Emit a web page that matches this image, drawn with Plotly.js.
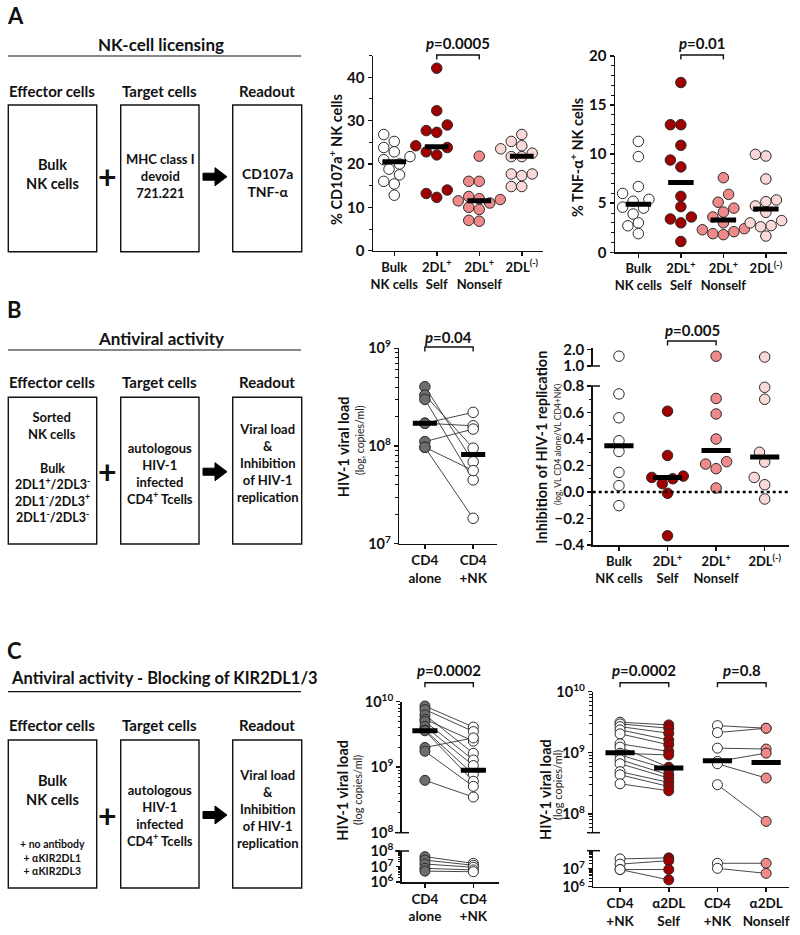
<!DOCTYPE html>
<html>
<head>
<meta charset="utf-8">
<script src="https://cdn.plot.ly/plotly-3.0.1.min.js"></script>
<style>
  body { margin: 0; background: #fff; }
  #fig { width: 800px; height: 935px; }
</style>
</head>
<body>
<div id="fig"></div>
<script>
// ---------- values ----------
// A: NK-cell licensing
var catA = ['Bulk<br>NK cells', '2DL<sup>+</sup><br>Self', '2DL<sup>+</sup><br>Nonself', '2DL<sup>(-)</sup>'];
var cd107Bulk = [25.2, 26.8, 22.8, 23.8, 21.7, 21.0, 20.0, 18.8, 17.5, 16.0, 15.4, 12.8];
var cd107Self = [42.1, 32.3, 29.0, 27.3, 27.7, 24.2, 23.8, 22.8, 22.1, 14.0, 12.3, 13.2];
var cd107Nonself = [21.8, 16.0, 16.0, 12.5, 12.0, 11.8, 11.5, 11.0, 10.0, 9.5, 7.0, 6.8];
var cd107Neg = [26.8, 25.2, 24.2, 23.5, 22.5, 21.7, 21.7, 17.7, 17.3, 17.7, 14.8, 14.8];
var cd107Med = [20.5, 24.0, 11.5, 21.8];

var tnfBulk = [11.3, 9.75, 6.7, 6.0, 5.4, 5.2, 4.6, 4.5, 3.9, 3.0, 2.7, 1.9];
var tnfSelf = [17.3, 13.0, 13.0, 10.9, 9.4, 8.7, 5.7, 4.65, 3.6, 3.4, 3.0, 1.1];
var tnfNonself = [7.6, 5.9, 5.1, 4.5, 4.1, 3.6, 3.0, 2.4, 2.3, 2.1, 1.9, 1.8];
var tnfNeg = [9.98, 9.81, 7.47, 5.33, 5.16, 4.72, 4.07, 3.23, 3.0, 2.72, 2.6, 1.66];
var tnfMed = [4.9, 7.1, 3.3, 4.4];

// B: antiviral activity
var catB1 = ['CD4<br>alone', 'CD4<br>+NK'];
var vlAlone = [4.05e8, 3.32e8, 3.0e8, 1.71e8, 1.71e8, 1.11e8, 0.97e8, 0.97e8];
var vlNK = [0.69e8, 0.95e8, 0.45e8, 2.21e8, 1.61e8, 1.49e8, 0.56e8, 1.82e7];
var vlMed = [1.71e8, 0.82e8];

var inhBulk = [1.6, 0.74, 0.56, 0.387, 0.306, 0.148, 0.048, -0.103];
var inhSelf = [0.61, 0.276, 0.12, 0.11, 0.10, 0.063, -0.01, -0.33];
var inhNonself = [1.6, 0.706, 0.589, 0.40, 0.229, 0.211, 0.176, 0.03];
var inhNeg = [1.55, 0.79, 0.70, 0.30, 0.226, 0.11, 0.055, -0.053];
var inhMed = [0.35, 0.11, 0.314, 0.264];

// C: blocking of KIR2DL1/3
var catC1 = ['CD4<br>alone', 'CD4<br>+NK'];
var c1AloneHi = [8.6e9, 7.6e9, 6.3e9, 5.4e9, 5.0e9, 4.2e9, 3.7e9, 3.6e9, 2.0e9, 1.75e9, 6.3e8];
var c1NKHi = [4.1e9, 3.5e9, 1.63e9, 2.5e9, 1.29e9, 1.06e9, 7.8e8, 6.1e8, 2.8e9, 5.1e8, 3.5e8];
var c1AloneLo = [4.3e7, 2.6e7, 1.45e7, 7.6e6, 5.0e6];
var c1NKLo = [1.6e7, 1.2e7, 8.9e6, 6.0e6, 4.6e6];
var c1Med = [3.6e9, 9.0e8];

var catC2 = ['CD4<br>+NK', '\u03b12DL<br>Self', 'CD4<br>+NK', '\u03b12DL<br>Nonself'];
var c2NkSelfHi = [3.16e9, 2.97e9, 2.68e9, 2.37e9, 2.04e9, 1.40e9, 1.24e9, 9.8e8, 9.2e8, 7.7e8, 6.6e8, 4.9e8, 4.35e8, 3.1e8];
var c2SelfHi = [2.86e9, 2.52e9, 2.09e9, 1.62e9, 1.35e9, 1.05e9, 5.8e8, 9.2e8, 5.3e8, 4.35e8, 3.85e8, 3.26e8, 2.8e8, 2.38e8];
var c2NkSelfLo = [3.5e7, 1.8e7, 9.0e6, 9.0e6];
var c2SelfLo = [4.0e7, 2.8e7, 9.0e6, 2.4e6];
var c2NkNonHi = [2.78e9, 2.14e9, 1.19e9, 7.2e8, 6.6e8, 3.0e8];
var c2NonHi = [2.52e9, 2.52e9, 1.15e9, 9.85e8, 3.85e8, 7.5e7];
var c2NkNonLo = [2.0e7, 1.05e7];
var c2NonLo = [2.0e7, 5.5e6];
var c2Med = [1.0e9, 5.6e8, 7.4e8, 6.9e8];

// ---------- helpers ----------
var W = 800, H = 935;
var FONT = 'Lato, "Open Sans", Arial, sans-serif';
var ink = '#111';
var white = '#ffffff', selfRed = '#a00000', nonselfPink = '#f08a8a', negPink = '#fbd8d8', grey = '#6e6e6e';

function fx(p) { return p / W; }
function fy(p) { return 1 - p / H; }
function domX(a, b) { return [a / W, b / W]; }
function domY(top, bot) { return [1 - bot / H, 1 - top / H]; }

function ax(o) {
  var a = {showline: true, linecolor: ink, linewidth: 1.5, showgrid: false, zeroline: false,
    ticks: 'outside', ticklen: 4, tickwidth: 1.5, tickcolor: ink, fixedrange: true, tickangle: 0,
    tickfont: {family: FONT, size: 15, color: ink, weight: 'bold'}};
  for (var k in o) a[k] = o[k];
  return a;
}
function minorLin(d) { return {ticks: 'outside', ticklen: 2.5, tickwidth: 1, tickcolor: ink, dtick: d}; }
var minorLog = {ticks: 'outside', ticklen: 2.5, tickwidth: 1, tickcolor: ink, dtick: 'D1'};
var catFont = {family: FONT, size: 13, color: ink, weight: 'bold'};
var catFontC = {family: FONT, size: 13.5, color: ink, weight: 'bold'};
var logFont = {family: FONT, size: 14.5, color: ink, weight: 'bold'};

function pow10(list) { return list.map(function (e) { return '10<sup>' + e + '</sup>'; }); }
function exps(list) { return list.map(function (e) { return Math.pow(10, e); }); }

var layout = {
  width: W, height: H, margin: {l: 0, r: 0, t: 0, b: 0}, showlegend: false,
  paper_bgcolor: '#fff', plot_bgcolor: 'rgba(0,0,0,0)',
  font: {family: FONT, color: ink},
  // A left
  xaxis: ax({domain: domX(373, 543), range: [-0.5, 3.5], anchor: 'y', tickvals: [0, 1, 2, 3], ticktext: catA, tickfont: catFont}),
  yaxis: ax({domain: domY(55.6, 250.7), range: [0, 45], anchor: 'x', tick0: 0, dtick: 10, minor: minorLin(5)}),
  // A right
  xaxis2: ax({domain: domX(615, 786.7), range: [-0.55, 3.49], anchor: 'y2', tickvals: [0, 1, 2, 3], ticktext: catA, tickfont: catFont}),
  yaxis2: ax({domain: domY(56, 252.3), range: [0, 20], anchor: 'x2', tick0: 0, dtick: 5, minor: minorLin(1)}),
  // B left
  xaxis3: ax({domain: domX(399.3, 497.3), range: [-0.53, 1.5], anchor: 'y3', tickvals: [0, 1], ticktext: catB1, tickfont: catFontC}),
  yaxis3: ax({domain: domY(348.3, 543.7), type: 'log', range: [7, 9], anchor: 'x3', tickfont: logFont,
    tickvals: exps([7, 8, 9]), ticktext: pow10([7, 8, 9]), minor: minorLog}),
  // B right (broken axis)
  xaxis4: ax({domain: domX(592.7, 789), range: [-0.54, 3.5], anchor: 'y4', tickvals: [0, 1, 2, 3], ticktext: catA, tickfont: catFont}),
  yaxis4: ax({domain: domY(386, 545), range: [-0.4, 0.8], anchor: 'x4', tick0: 0, dtick: 0.2, tickformat: '.1f', minor: minorLin(0.1)}),
  yaxis5: ax({domain: domY(348, 366), range: [1, 2.1], anchor: 'x4', tickvals: [1, 2], tickformat: '.1f'}),
  // C left (broken log axis)
  xaxis5: ax({domain: domX(401.7, 499), range: [-0.48, 1.53], anchor: 'y7', tickvals: [0, 1], ticktext: catC1, tickfont: catFontC}),
  yaxis6: ax({domain: domY(701.7, 832.7), type: 'log', range: [8, 10], anchor: 'x5', tickfont: logFont,
    tickvals: exps([8, 9, 10]), ticktext: pow10([8, 9, 10]), minor: minorLog}),
  yaxis7: ax({domain: domY(851, 882), type: 'log', range: [6, 8], anchor: 'x5', tickfont: logFont,
    tickvals: exps([6, 7, 8]), ticktext: pow10([6, 7, 8]), minor: minorLog}),
  // C right (broken log axis)
  xaxis6: ax({domain: domX(593.3, 789), range: [-0.55, 3.47], anchor: 'y9', tickvals: [0, 1, 2, 3], ticktext: catC2, tickfont: catFontC}),
  yaxis8: ax({domain: domY(691.7, 832.7), type: 'log', range: [7.69, 10], anchor: 'x6', tickfont: logFont,
    tickvals: exps([8, 9, 10]), ticktext: pow10([8, 9, 10]), minor: minorLog}),
  yaxis9: ax({domain: domY(850.7, 886.7), type: 'log', range: [6, 8], anchor: 'x6', tickfont: logFont,
    tickvals: exps([6, 7]), ticktext: pow10([6, 7]), minor: minorLog}),
  shapes: [],
  annotations: []
};

// place dots of one group side by side when they would overlap (scatter dot plot)
function swarm(vals, center, xa, ya, diam) {
  var xpx = (xa.domain[1] - xa.domain[0]) * W / (xa.range[1] - xa.range[0]);
  var ypx = (ya.domain[1] - ya.domain[0]) * H / (ya.range[1] - ya.range[0]);
  var order = vals.map(function (v, i) { return i; }).sort(function (a, b) { return vals[a] - vals[b]; });
  var placed = [], xs = [];
  var cands = [0, -0.5, 0.5, -1, 1, -1.5, 1.5, -2, 2];
  order.forEach(function (i) {
    var yp = vals[i] * ypx;
    for (var k = 0; k < cands.length; k++) {
      var xp = cands[k] * diam;
      var ok = placed.every(function (p) { return Math.hypot(p[0] - xp, p[1] - yp) >= diam * 0.95; });
      if (ok || k === cands.length - 1) { placed.push([xp, yp]); xs[i] = center + xp / xpx; break; }
    }
  });
  return xs;
}

var data = [];
function dots(xs, ys, color, xa, ya, size) {
  data.push({type: 'scatter', mode: 'markers', x: xs, y: ys, xaxis: xa, yaxis: ya, cliponaxis: false, hoverinfo: 'skip',
    marker: {size: size, color: color, line: {color: '#2a2a2a', width: 1}}});
}
function medianBar(i, m, half, xa, ya) {
  data.push({type: 'scatter', mode: 'lines', x: [i - half, i + half], y: [m, m], xaxis: xa, yaxis: ya,
    cliponaxis: false, hoverinfo: 'skip', line: {color: '#000', width: 5}});
}
function pairs(left, right, i0, cLeft, cRight, xa, ya, size) {
  var lx = [], ly = [];
  left.forEach(function (v, k) { lx.push(i0, i0 + 1, null); ly.push(v, right[k], null); });
  data.push({type: 'scatter', mode: 'lines', x: lx, y: ly, xaxis: xa, yaxis: ya, cliponaxis: false,
    hoverinfo: 'skip', line: {color: '#333', width: 0.9}});
  dots(left.map(function () { return i0; }), left, cLeft, xa, ya, size);
  dots(right.map(function () { return i0 + 1; }), right, cRight, xa, ya, size);
}

// A: CD107a
var colsA = [white, selfRed, nonselfPink, negPink];
[cd107Bulk, cd107Self, cd107Nonself, cd107Neg].forEach(function (g, i) {
  dots(swarm(g, i, layout.xaxis, layout.yaxis, 10.5), g, colsA[i], 'x', 'y', 10.5);
});
cd107Med.forEach(function (m, i) { medianBar(i, m, 0.28, 'x', 'y'); });

// A: TNF-a
[tnfBulk, tnfSelf, tnfNonself, tnfNeg].forEach(function (g, i) {
  dots(swarm(g, i, layout.xaxis2, layout.yaxis2, 10.5), g, colsA[i], 'x2', 'y2', 10.5);
});
tnfMed.forEach(function (m, i) { medianBar(i, m, 0.3, 'x2', 'y2'); });

// B: viral load
pairs(vlAlone, vlNK, 0, grey, white, 'x3', 'y3', 10.5);
vlMed.forEach(function (m, i) { medianBar(i, m, 0.25, 'x3', 'y3'); });

// B: inhibition, values above 1 sit on the upper axis segment
[inhBulk, inhSelf, inhNonself, inhNeg].forEach(function (g, i) {
  var lo = g.filter(function (v) { return v < 1; });
  var hi = g.filter(function (v) { return v >= 1; });
  dots(swarm(lo, i, layout.xaxis4, layout.yaxis4, 10.5), lo, colsA[i], 'x4', 'y4', 10.5);
  if (hi.length) dots(hi.map(function () { return i; }), hi, colsA[i], 'x4', 'y5', 10.5);
});
inhMed.forEach(function (m, i) { medianBar(i, m, 0.3, 'x4', 'y4'); });

// C: blocking, left
pairs(c1AloneHi, c1NKHi, 0, grey, white, 'x5', 'y6', 10);
pairs(c1AloneLo, c1NKLo, 0, grey, white, 'x5', 'y7', 10);
c1Med.forEach(function (m, i) { medianBar(i, m, 0.26, 'x5', 'y6'); });

// C: blocking, right
pairs(c2NkSelfHi, c2SelfHi, 0, white, selfRed, 'x6', 'y8', 10);
pairs(c2NkSelfLo, c2SelfLo, 0, white, selfRed, 'x6', 'y9', 10);
pairs(c2NkNonHi, c2NonHi, 2, white, nonselfPink, 'x6', 'y8', 10);
pairs(c2NkNonLo, c2NonLo, 2, white, nonselfPink, 'x6', 'y9', 10);
c2Med.forEach(function (m, i) { medianBar(i, m, 0.3, 'x6', 'y8'); });

// ---------- decorations ----------
var shapes = layout.shapes, notes = layout.annotations;
function txt(s, x, y, size, o) {
  var a = {text: s, x: fx(x), y: fy(y), xref: 'paper', yref: 'paper', showarrow: false,
    xanchor: 'center', yanchor: 'middle', font: {family: FONT, size: size, color: ink, weight: 'bold'}};
  for (var k in o) a[k] = o[k];
  return a;
}
function light(size) { return {family: FONT, size: size, color: '#222', weight: 'normal'}; }
function bracket(xref, a, b, yTop) {
  shapes.push({type: 'path', xref: xref, yref: 'paper',
    path: 'M' + a + ',' + fy(yTop + 4.5) + 'L' + a + ',' + fy(yTop) + 'L' + b + ',' + fy(yTop) + 'L' + b + ',' + fy(yTop + 4.5),
    line: {color: ink, width: 1.4}});
}
function hline(x0, x1, y, w) {
  shapes.push({type: 'line', xref: 'paper', yref: 'paper', x0: fx(x0), x1: fx(x1), y0: fy(y), y1: fy(y), line: {color: ink, width: w || 1.5}});
}
function box(x0, y0, x1, y1) {
  shapes.push({type: 'rect', xref: 'paper', yref: 'paper', x0: fx(x0), x1: fx(x1), y0: fy(y1), y1: fy(y0), line: {color: ink, width: 1.4}});
}
function arrow(x0, x1, y) {
  var pts = [[x0, y - 3.5], [x1 - 12, y - 3.5], [x1 - 12, y - 9], [x1, y], [x1 - 12, y + 9], [x1 - 12, y + 3.5], [x0, y + 3.5]];
  shapes.push({type: 'path', xref: 'paper', yref: 'paper', fillcolor: '#000', line: {color: '#000', width: 1},
    path: 'M' + pts.map(function (p) { return fx(p[0]).toFixed(5) + ',' + fy(p[1]).toFixed(5); }).join('L') + 'Z'});
}

// p-values
var pTxt = function (v) { return '<i>p</i>=' + v; };
notes.push(txt(pTxt('0.0005'), 458, 43.5, 15));  bracket('x', 1, 2, 55);
notes.push(txt(pTxt('0.01'), 702, 43.5, 15));    bracket('x2', 1, 2, 55);
notes.push(txt(pTxt('0.04'), 448, 336.5, 15));   bracket('x3', 0, 1, 347);
notes.push(txt(pTxt('0.005'), 692, 330, 15));    bracket('x4', 1, 2, 341);
notes.push(txt(pTxt('0.0002'), 449, 670, 15));   bracket('x5', 0, 1, 682.7);
notes.push(txt(pTxt('0.0002'), 644, 670, 15));   bracket('x6', 0, 1, 682.7);
notes.push(txt(pTxt('0.8'), 742, 670, 15));      bracket('x6', 2, 3, 682.7);

// zero line and axis breaks
shapes.push({type: 'line', xref: 'x4 domain', yref: 'y4', x0: 0, x1: 1, y0: 0, y1: 0, line: {color: '#000', width: 2.5, dash: 'dot'}});
hline(587, 600, 366); hline(587, 600, 386);
hline(395, 409, 832.7); hline(395, 409, 851);
hline(587, 600, 832.7); hline(587, 600, 850.7);

// y titles
var rot = {textangle: -90};
notes.push(txt('% CD107a<sup>+</sup> NK cells', 335, 160, 14.5, rot));
notes.push(txt('% TNF-\u03b1<sup>+</sup> NK cells', 577, 158, 14.5, rot));
notes.push(txt('HIV-1 viral load', 343.5, 446.7, 14.5, rot));
notes.push(txt('(log, copies/ml)', 360, 440, 10.5, {textangle: -90, font: light(10.5)}));
notes.push(txt('Inhibition of HIV-1 replication', 541.7, 447, 14.5, rot));
notes.push(txt('(log, VL CD4 alone/VL CD4+NK)', 558, 445, 8.5, {textangle: -90, font: light(8.5)}));
notes.push(txt('HIV-1 viral load', 341.7, 790, 14.5, rot));
notes.push(txt('(log copies/ml)', 357, 790, 11, {textangle: -90, font: light(11)}));
notes.push(txt('HIV-1 viral load', 545, 790, 14.5, rot));
notes.push(txt('(log copies/ml)', 557, 785, 11, {textangle: -90, font: light(11)}));

// schematics: panel letters, titles, boxes, plus signs and arrows
var heads = ['Effector cells', 'Target cells', 'Readout'];
var headX = [51.7, 159.5, 267];
function scheme(top, bottom, headY, midY) {
  heads.forEach(function (h, i) { notes.push(txt(h, headX[i], headY, 15)); });
  box(8.3, top, 96.7, bottom); box(120.7, top, 199, bottom); box(232.7, top, 301.7, bottom);
  notes.push(txt('+', 107, midY, 32));
  arrow(203, 227, midY);
}

notes.push(txt('A', 15, 16, 22));
notes.push(txt('NK-cell licensing', 161, 45, 17));
hline(8, 301, 56, 1.2);
scheme(105, 251.7, 90.7, 176.7);
notes.push(txt('Bulk<br>NK cells', 52, 174, 14.5));
notes.push(txt('MHC class I<br>devoid<br>721.221', 160, 176, 13));
notes.push(txt('CD107a<br>TNF-\u03b1', 267, 183, 14));

notes.push(txt('B', 14, 309, 22));
notes.push(txt('Antiviral activity', 161, 338.3, 17));
hline(8, 301, 350, 1.2);
scheme(397.3, 544, 381.7, 471.7);
notes.push(txt('Sorted<br>NK cells', 52, 425.5, 13));
notes.push(txt('Bulk<br>2DL1<sup>+</sup>/2DL3<sup>-</sup><br>2DL1<sup>-</sup>/2DL3<sup>+</sup><br>2DL1<sup>-</sup>/2DL3<sup>-</sup>', 52, 493, 12.5));
notes.push(txt('autologous<br>HIV-1<br>infected<br>CD4<sup>+</sup> Tcells', 160, 473, 13));
notes.push(txt('Viral load<br>&<br>Inhibition<br>of HIV-1<br>replication', 267, 463, 13));

notes.push(txt('C', 14, 650, 22));
notes.push(txt('Antiviral activity - Blocking of KIR2DL1/3', 9, 678.3, 16.5, {xanchor: 'left'}));
hline(8, 301, 691.7, 1.2);
scheme(740, 888, 725, 815);
notes.push(txt('Bulk<br>NK cells', 52, 790, 14.5));
notes.push(txt('+ no antibody<br>+ \u03b1KIR2DL1<br>+ \u03b1KIR2DL3', 52, 857, 10.5));
notes.push(txt('autologous<br>HIV-1<br>infected<br>CD4<sup>+</sup> Tcells', 160, 815, 13));
notes.push(txt('Viral load<br>&<br>Inhibition<br>of HIV-1<br>replication', 267, 809, 13));

Plotly.newPlot('fig', data, layout, {displayModeBar: false, staticPlot: true});
</script>
</body>
</html>
